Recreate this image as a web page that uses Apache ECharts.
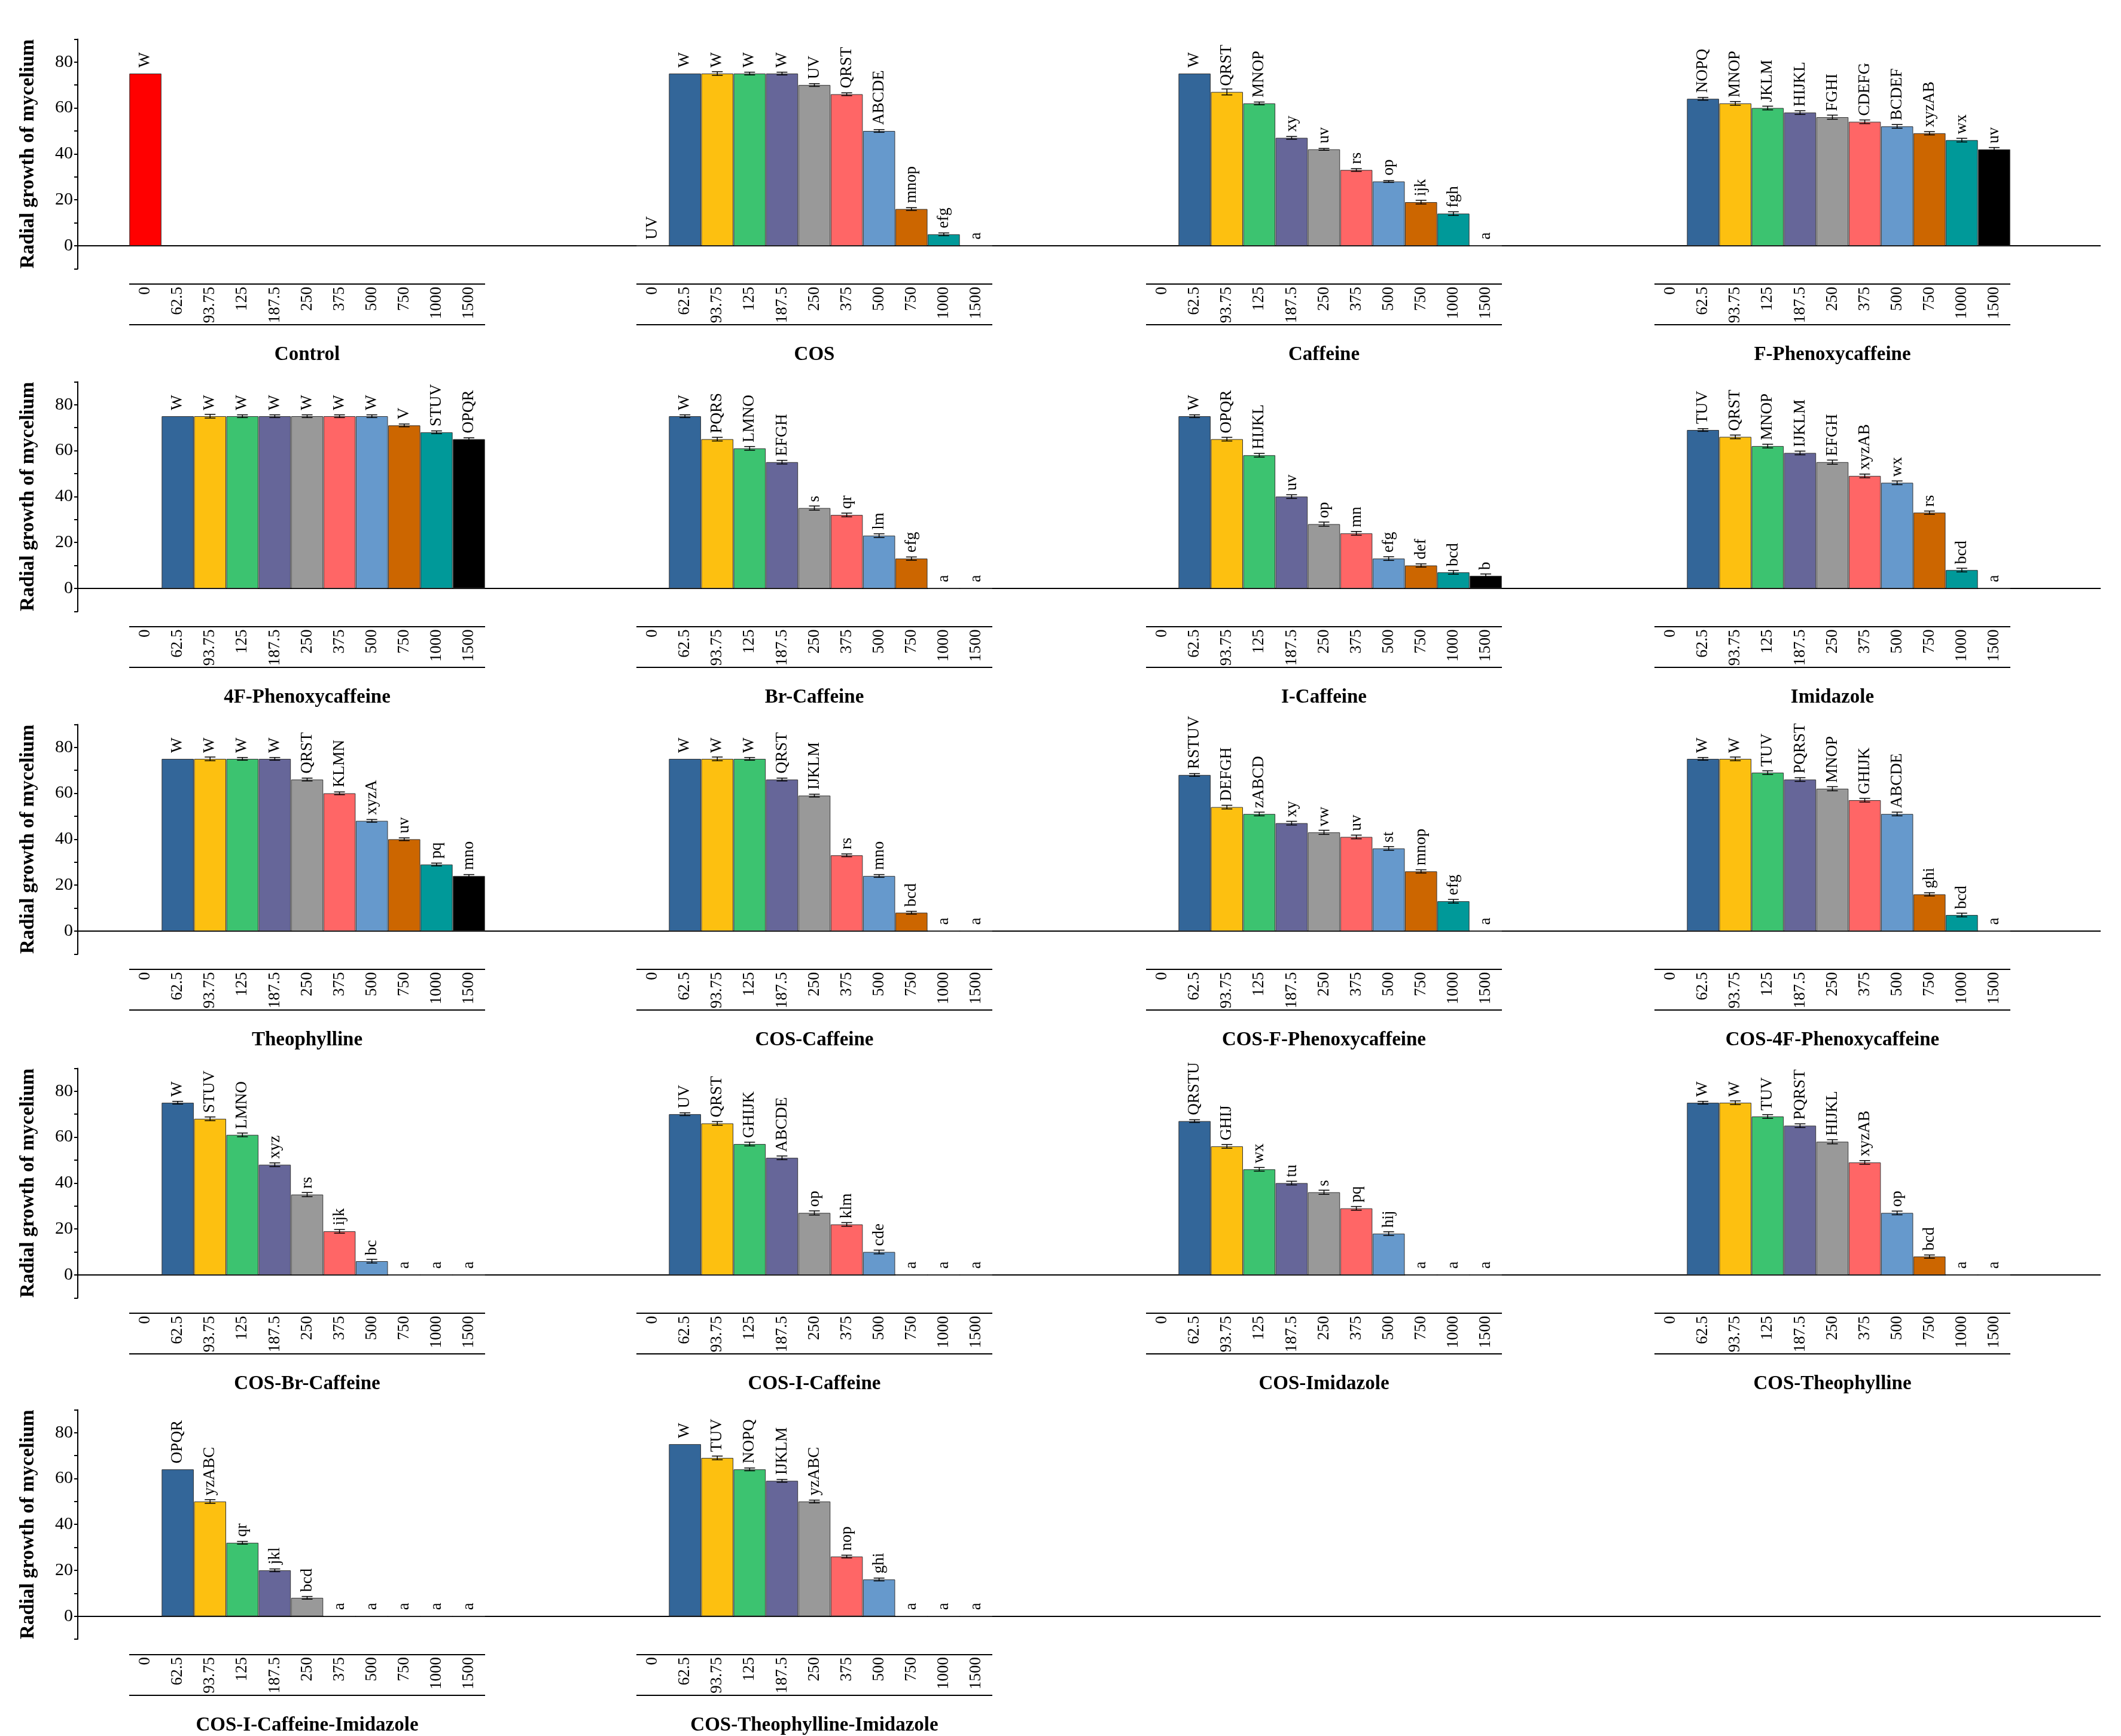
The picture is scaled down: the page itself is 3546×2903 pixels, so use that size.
<!DOCTYPE html>
<html>
<head>
<meta charset="utf-8">
<script src="https://cdn.jsdelivr.net/npm/echarts@6/dist/echarts.min.js"></script>
<style>html,body{margin:0;padding:0;background:#fff}#main{width:3546px;height:2903px}</style>
</head>
<body>
<div id="main"></div>
<script>
var categories = ['0','62.5','93.75','125','187.5','250','375','500','750','1000','1500'];
var panelNames = ['Control','COS','Caffeine','F-Phenoxycaffeine','4F-Phenoxycaffeine','Br-Caffeine','I-Caffeine','Imidazole',
  'Theophylline','COS-Caffeine','COS-F-Phenoxycaffeine','COS-4F-Phenoxycaffeine','COS-Br-Caffeine','COS-I-Caffeine','COS-Imidazole','COS-Theophylline',
  'COS-I-Caffeine-Imidazole','COS-Theophylline-Imidazole'];
// values per panel, index 0 = concentration 0
var valControl = [75,null,null,null,null,null,null,null,null,null,null];
var valCOS = [0,75,75,75,75,70,66,50,16,5,0];
var valCaffeine = [null,75,67,62,47,42,33,28,19,14,0];
var valFPhen = [null,64,62,60,58,56,54,52,49,46,42];
var val4FPhen = [null,75,75,75,75,75,75,75,71,68,65];
var valBr = [null,75,65,61,55,35,32,23,13,0,0];
var valI = [null,75,65,58,40,28,24,13,10,7,5.5];
var valImid = [null,69,66,62,59,55,49,46,33,8,0];
var valTheo = [null,75,75,75,75,66,60,48,40,29,24];
var valCOSCaf = [null,75,75,75,66,59,33,24,8,0,0];
var valCOSFPhen = [null,68,54,51,47,43,41,36,26,13,0];
var valCOS4F = [null,75,75,69,66,62,57,51,16,7,0];
var valCOSBr = [null,75,68,61,48,35,19,6,0,0,0];
var valCOSI = [null,70,66,57,51,27,22,10,0,0,0];
var valCOSImid = [null,67,56,46,40,36,29,18,0,0,0];
var valCOSTheo = [null,75,75,69,65,58,49,27,8,0,0];
var valCOSICafImid = [null,64,50,32,20,8,0,0,0,0,0];
var valCOSTheoImid = [null,75,69,64,59,50,26,16,0,0,0];

var letControl = ['W','','','','','','','','','',''];
var letCOS = ['UV','W','W','W','W','UV','QRST','ABCDE','mnop','efg','a'];
var letCaffeine = ['','W','QRST','MNOP','xy','uv','rs','op','ijk','fgh','a'];
var letFPhen = ['','NOPQ','MNOP','JKLM','HIJKL','FGHI','CDEFG','BCDEF','xyzAB','wx','uv'];
var let4FPhen = ['','W','W','W','W','W','W','W','V','STUV','OPQR'];
var letBr = ['','W','PQRS','LMNO','EFGH','s','qr','lm','efg','a','a'];
var letI = ['','W','OPQR','HIJKL','uv','op','mn','efg','def','bcd','b'];
var letImid = ['','TUV','QRST','MNOP','IJKLM','EFGH','xyzAB','wx','rs','bcd','a'];
var letTheo = ['','W','W','W','W','QRST','KLMN','xyzA','uv','pq','mno'];
var letCOSCaf = ['','W','W','W','QRST','IJKLM','rs','mno','bcd','a','a'];
var letCOSFPhen = ['','RSTUV','DEFGH','zABCD','xy','vw','uv','st','mnop','efg','a'];
var letCOS4F = ['','W','W','TUV','PQRST','MNOP','GHIJK','ABCDE','ghi','bcd','a'];
var letCOSBr = ['','W','STUV','LMNO','xyz','rs','ijk','bc','a','a','a'];
var letCOSI = ['','UV','QRST','GHIJK','ABCDE','op','klm','cde','a','a','a'];
var letCOSImid = ['','QRSTU','GHIJ','wx','tu','s','pq','hij','a','a','a'];
var letCOSTheo = ['','W','W','TUV','PQRST','HIJKL','xyzAB','op','bcd','a','a'];
var letCOSICafImid = ['','OPQR','yzABC','qr','jkl','bcd','a','a','a','a','a'];
var letCOSTheoImid = ['','W','TUV','NOPQ','IJKLM','yzABC','nop','ghi','a','a','a'];

var errSmall = [0,0,0.8,0.6,0.6,0.6,0.6,0.6,0.6,0.6,0.6];
var errCaffeine = [0,0,1.3,0.6,0.6,0.4,0.6,0.4,0.8,0.8,0];
var errMid = [0,0.6,0.8,0.8,0.8,0.9,0.8,0.8,0.7,0.8,0.8];

var allVals = [valControl,valCOS,valCaffeine,valFPhen,val4FPhen,valBr,valI,valImid,valTheo,valCOSCaf,valCOSFPhen,valCOS4F,valCOSBr,valCOSI,valCOSImid,valCOSTheo,valCOSICafImid,valCOSTheoImid];
var allLets = [letControl,letCOS,letCaffeine,letFPhen,let4FPhen,letBr,letI,letImid,letTheo,letCOSCaf,letCOSFPhen,letCOS4F,letCOSBr,letCOSI,letCOSImid,letCOSTheo,letCOSICafImid,letCOSTheoImid];
var allErrs = [errSmall,errSmall,errCaffeine,errMid,errSmall,errMid,errMid,errMid,errSmall,errSmall,errMid,errMid,errMid,errMid,errMid,errMid,errSmall,errSmall];

var colors = ['#ff0000','#336699','#fdc010','#3cc370','#666699','#999999','#ff6666','#6699cc','#cc6600','#009999','#000000'];
var font = 'Liberation Serif';

var colLeft = [216,1064,1916,2766], colW = 595;
var rowZero = [411,984,1557,2132,2703];
var unit = 3.84; // px per y unit

var chart = echarts.init(document.getElementById('main'));
var grids=[],xAxes=[],yAxes=[],series=[],graphics=[];

for (var r=0;r<5;r++){
  graphics.push({type:'line',shape:{x1:130,y1:rowZero[r],x2:3512,y2:rowZero[r]},style:{stroke:'#000',lineWidth:2}});
}

allVals.forEach(function(vals,p){
  var r=Math.floor(p/4), c=p%4, y0=rowZero[r];
  grids.push({left:colLeft[c],width:colW,top:y0-90*unit,height:100*unit});
  graphics.push({type:'line',shape:{x1:colLeft[c],y1:y0+64,x2:colLeft[c]+colW,y2:y0+64},style:{stroke:'#000',lineWidth:2}});
  graphics.push({type:'line',shape:{x1:colLeft[c],y1:y0+132,x2:colLeft[c]+colW,y2:y0+132},style:{stroke:'#000',lineWidth:2}});
  xAxes.push({type:'category',gridIndex:p,data:categories,axisLine:{show:false},axisTick:{show:false},
    axisLabel:{rotate:90,margin:30,fontFamily:font,fontSize:27,color:'#000',interval:0},
    name:panelNames[p],nameLocation:'middle',nameGap:128,
    nameTextStyle:{fontFamily:font,fontWeight:'bold',fontSize:33,color:'#000'}});
  var first=(c===0);
  yAxes.push({type:'value',gridIndex:p,min:-10,max:90,offset:first?86:0,show:first,splitLine:{show:false},
    axisLine:{show:true,lineStyle:{color:'#000',width:2}},
    axisTick:{show:true,customValues:[-10,0,10,20,30,40,50,60,70,80,90],length:6,lineStyle:{color:'#000',width:2}},
    axisLabel:{customValues:[0,20,40,60,80],fontFamily:font,fontSize:30,color:'#000',margin:8},
    name:'Radial growth of mycelium',nameLocation:'middle',nameRotate:90,nameGap:66,
    nameTextStyle:{fontFamily:font,fontWeight:'bold',fontSize:33,color:'#000'}});
  var lets=allLets[p];
  series.push({type:'bar',xAxisIndex:p,yAxisIndex:p,barCategoryGap:'1%',
    data:vals.map(function(v,i){return v===null?null:{value:v,itemStyle:{color:colors[i]}};}),
    itemStyle:{borderColor:'#333',borderWidth:1},
    label:{show:true,position:'top',rotate:90,align:'left',verticalAlign:'middle',distance:10,
      fontFamily:font,fontSize:27,color:'#000',formatter:function(d){return lets[d.dataIndex];}}});
  var errs=allErrs[p];
  series.push({type:'custom',xAxisIndex:p,yAxisIndex:p,z:5,
    data:vals.map(function(v,i){return v?[i,v,errs[i]]:null;}).filter(function(d){return d&&d[2]>0;}),
    renderItem:function(params,api){
      var i=api.value(0),v=api.value(1),e=api.value(2);
      var hi=api.coord([i,v+e]),lo=api.coord([i,v-e]);
      return {type:'group',children:[
        {type:'line',shape:{x1:hi[0],y1:hi[1],x2:lo[0],y2:lo[1]},style:{stroke:'#000',lineWidth:1.5}},
        {type:'line',shape:{x1:hi[0]-9,y1:hi[1],x2:hi[0]+9,y2:hi[1]},style:{stroke:'#000',lineWidth:1.5}},
        {type:'line',shape:{x1:lo[0]-9,y1:lo[1],x2:lo[0]+9,y2:lo[1]},style:{stroke:'#000',lineWidth:1.5}}]};
    }});
});

chart.setOption({animation:false,backgroundColor:'#fff',grid:grids,xAxis:xAxes,yAxis:yAxes,series:series,graphic:graphics});
</script>
</body>
</html>
